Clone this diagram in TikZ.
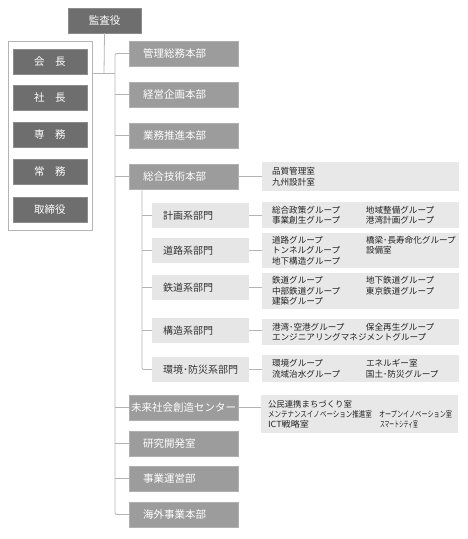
\documentclass[tikz,border=0pt]{standalone}
\usepackage{fontspec}
\usepackage{graphicx}
\setmainfont{Noto Sans CJK JP}
\definecolor{cdark}{HTML}{6E6E6E}
\definecolor{cdarkline}{HTML}{8C8C8C}
\definecolor{cmain}{HTML}{9C9C9C}
\definecolor{cmainline}{HTML}{B0B0B0}
\definecolor{csub}{HTML}{E6E6E6}
\definecolor{cdet}{HTML}{E8E8E8}
\definecolor{cline}{HTML}{B4B4B4}
\definecolor{ctext}{HTML}{333333}
\definecolor{cdtext}{HTML}{222222}
\newcommand{\col}[2][94pt]{\makebox[#1][l]{#2}}
\newcommand{\narrow}[2]{\resizebox{#1}{\height}{#2}}
\begin{document}
\begin{tikzpicture}[x=1pt,y=-1pt,
  box/.style={rectangle, anchor=north west, inner ysep=0pt, outer sep=0pt},
  darkbox/.style={box, fill=cdark, draw=cdarkline, minimum width=74pt, minimum height=25pt, inner xsep=0pt, text=white, font=\fontsize{10.5}{12}\selectfont},
  mainbox/.style={box, fill=cmain, draw=cmainline, minimum width=109pt, minimum height=25pt, inner xsep=14pt, text width=81pt, align=left, text=white, font=\fontsize{10.5}{12}\selectfont},
  subbox/.style={box, fill=csub, minimum width=97pt, minimum height=25pt, inner xsep=11pt, text width=75pt, align=left, text=ctext, font=\fontsize{10}{12}\selectfont},
  detbox/.style={box, fill=cdet, minimum width=197pt, inner xsep=10pt, text width=177pt, align=left, text=cdtext, font=\fontsize{8.6}{10.5}\selectfont},
  conn/.style={draw=cline, line width=0.8pt}
]
\useasboundingbox (0,0) rectangle (468,539);

% top
\node[darkbox, minimum width=73pt] (kansa) at (68,8) {監査役};
\node[box, draw=cline, line width=0.8pt, minimum width=84pt, minimum height=189pt] (exec) at (8,41) {};
\node[darkbox] (kaicho) at (13,49) {会　長};
\node[darkbox] (shacho) at (13,85) {社　長};
\node[darkbox] (senmu) at (13,122) {専　務};
\node[darkbox] (jomu) at (13,159) {常　務};
\node[darkbox] (torishimari) at (13,197) {取締役};

% main boxes
\node[mainbox] (kanri) at (129,41) {管理総務本部};
\node[mainbox] (keiei) at (129,82) {経営企画本部};
\node[mainbox] (gyomu) at (129,123) {業務推進本部};
\node[mainbox] (sogo) at (129,164) {総合技術本部};
\node[mainbox, inner xsep=2pt, text width=105pt] (mirai) at (129,395) {未来社会創造センター};
\node[mainbox] (kenkyu) at (129,431) {研究開発室};
\node[mainbox] (jigyo) at (129,466) {事業運営部};
\node[mainbox] (kaigai) at (129,502) {海外事業本部};

% sub boxes
\node[subbox] (keikaku) at (152,203) {計画系部門};
\node[subbox] (doro) at (152,238) {道路系部門};
\node[subbox] (tetsudo) at (152,275) {鉄道系部門};
\node[subbox] (kozo) at (152,318) {構造系部門};
\node[subbox] (kankyo) at (152,357) {環境･防災系部門};

% detail boxes
\node[detbox, minimum height=29pt] (hinshitsu) at (262,162) {品質管理室\\九州設計室};
\node[detbox, minimum height=26pt] (dkeikaku) at (262,202) {\col{総合政策グループ}地域整備グループ\\\col{事業創生グループ}港湾計画グループ};
\node[detbox, minimum height=35pt] (ddoro) at (262,233) {\col{道路グループ}橋梁･長寿命化グループ\\\col{トンネルグループ}設備室\\地下構造グループ};
\node[detbox, minimum height=36pt] (dtetsudo) at (262,273) {\col{鉄道グループ}地下鉄道グループ\\\col{中部鉄道グループ}東京鉄道グループ\\建築グループ};
\node[detbox, minimum height=26pt] (dkozo) at (262,319) {\col{港湾･空港グループ}保全再生グループ\\エンジニアリングマネジメントグループ};
\node[detbox, minimum height=27pt] (dkankyo) at (262,355) {\col{環境グループ}エネルギー室\\\col{流域治水グループ}国土･防災グループ};
\node[detbox, minimum width=197pt, inner xsep=7pt, text width=183pt, minimum height=38pt, font=\fontsize{8.4}{10}\selectfont] (dmirai) at (261,395) {公民連携まちづくり室\\\col[111pt]{\narrow{104pt}{メンテナンスイノベーション推進室}}\narrow{73pt}{オープンイノベーション室}\\\col[112pt]{\narrow{41pt}{ICT戦略室}}\narrow{38pt}{スマートシティ室}};

% connectors
\coordinate (trunk) at (115,0);
\coordinate (subtrunk) at (142,0);
\coordinate (j) at (104,73);
\draw[conn] (kansa.south) -- (j);
\draw[conn] (j -| exec.east) -- (j -| trunk);
\draw[conn, rounded corners=2pt] (kanri.west) -| (trunk |- kaigai.west) -- (kaigai.west);
\foreach \n in {keiei,gyomu,sogo,mirai,kenkyu,jigyo}
  \draw[conn] (\n.west) -- (\n.west -| trunk);
\draw[conn, rounded corners=2pt] (subtrunk |- sogo.south) |- (kankyo.west);
\foreach \n in {keikaku,doro,tetsudo,kozo}
  \draw[conn] (\n.west) -- (\n.west -| subtrunk);
\draw[conn] (sogo.east) -- (hinshitsu.west |- sogo.east);
\draw[conn] (keikaku.east) -- (dkeikaku.west |- keikaku.east);
\draw[conn] (doro.east) -- (ddoro.west |- doro.east);
\draw[conn] (tetsudo.east) -- (dtetsudo.west |- tetsudo.east);
\draw[conn] (kozo.east) -- (dkozo.west |- kozo.east);
\draw[conn] (kankyo.east) -- (dkankyo.west |- kankyo.east);
\draw[conn] (mirai.east) -- (dmirai.west |- mirai.east);
\end{tikzpicture}
\end{document}
